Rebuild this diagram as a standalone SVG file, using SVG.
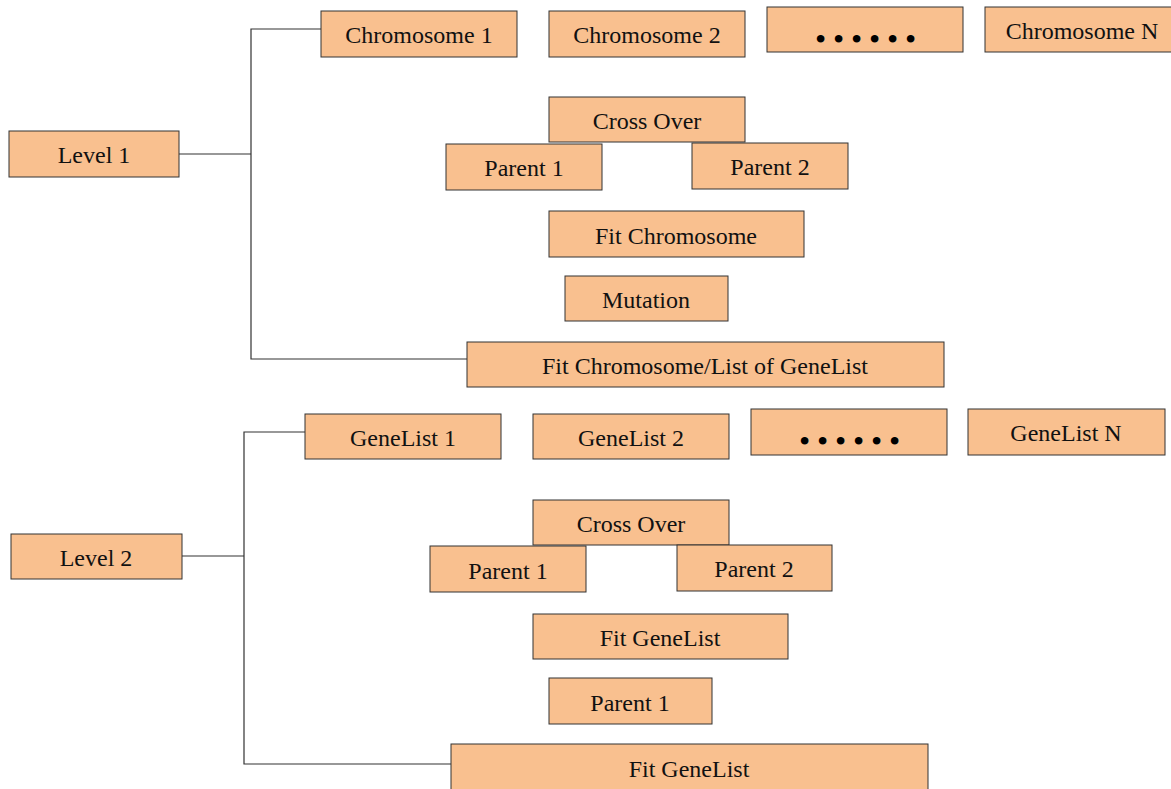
<svg xmlns="http://www.w3.org/2000/svg" width="1171" height="789" viewBox="0 0 1171 789">
<style>
.b{fill:#F9C08F;stroke:#333;stroke-width:1}
.t{font-size:24px;fill:#111;text-anchor:middle}
.d{font-size:32px;fill:#000;text-anchor:middle;letter-spacing:6.8px}
.c{fill:none;stroke:#333;stroke-width:1.2}
</style>
<rect width="1171" height="789" fill="#fff"/>
<g id="connectors">
<polyline class="c" points="321,29 251,29 251,359 467,359"/>
<line class="c" x1="179" y1="154" x2="251" y2="154"/>
<polyline class="c" points="305,432 244,432 244,764 451,764"/>
<line class="c" x1="182" y1="556" x2="244" y2="556"/>
</g>
<g font-family="Liberation Serif, Times New Roman, DejaVu Serif, serif">
<g id="level1"><rect class="b" x="9" y="131" width="170" height="46"/><text class="t" x="94" y="163">Level 1</text></g>
<g id="chromosome1"><rect class="b" x="321" y="11" width="196" height="46"/><text class="t" x="419" y="43">Chromosome 1</text></g>
<g id="chromosome2"><rect class="b" x="549" y="11" width="196" height="46"/><text class="t" x="647" y="43">Chromosome 2</text></g>
<g id="chromosomeDots"><rect class="b" x="767" y="7" width="196" height="45"/><text class="d" x="869" y="50">••••••</text></g>
<g id="chromosomeN"><rect class="b" x="985" y="7" width="190" height="45"/><text class="t" x="1082" y="39">Chromosome N</text></g>
<g id="crossover1"><rect class="b" x="549" y="97" width="196" height="45"/><text class="t" x="647" y="129">Cross Over</text></g>
<g id="parent1a"><rect class="b" x="446" y="144" width="156" height="46"/><text class="t" x="524" y="176">Parent 1</text></g>
<g id="parent2a"><rect class="b" x="692" y="143" width="156" height="46"/><text class="t" x="770" y="175">Parent 2</text></g>
<g id="fitChromosome"><rect class="b" x="549" y="211" width="255" height="46"/><text class="t" x="676" y="244">Fit Chromosome</text></g>
<g id="mutation"><rect class="b" x="565" y="276" width="163" height="45"/><text class="t" x="646" y="308">Mutation</text></g>
<g id="fitChromosomeList"><rect class="b" x="467" y="342" width="477" height="45"/><text class="t" x="705" y="374">Fit Chromosome/List of GeneList</text></g>
<g id="level2"><rect class="b" x="11" y="534" width="171" height="45"/><text class="t" x="96" y="566">Level 2</text></g>
<g id="genelist1"><rect class="b" x="305" y="414" width="196" height="45"/><text class="t" x="403" y="446">GeneList 1</text></g>
<g id="genelist2"><rect class="b" x="533" y="414" width="196" height="45"/><text class="t" x="631" y="446">GeneList 2</text></g>
<g id="genelistDots"><rect class="b" x="751" y="409" width="196" height="46"/><text class="d" x="853" y="452">••••••</text></g>
<g id="genelistN"><rect class="b" x="968" y="409" width="197" height="46"/><text class="t" x="1066" y="441">GeneList N</text></g>
<g id="crossover2"><rect class="b" x="533" y="500" width="196" height="45"/><text class="t" x="631" y="532">Cross Over</text></g>
<g id="parent1b"><rect class="b" x="430" y="546" width="156" height="46"/><text class="t" x="508" y="579">Parent 1</text></g>
<g id="parent2b"><rect class="b" x="677" y="545" width="155" height="46"/><text class="t" x="754" y="577">Parent 2</text></g>
<g id="fitGeneList"><rect class="b" x="533" y="614" width="255" height="45"/><text class="t" x="660" y="646">Fit GeneList</text></g>
<g id="parent1c"><rect class="b" x="549" y="678" width="163" height="46"/><text class="t" x="630" y="711">Parent 1</text></g>
<g id="fitGeneListBottom"><rect class="b" x="451" y="744" width="477" height="50"/><text class="t" x="689" y="777">Fit GeneList</text></g>
</g>
</svg>
